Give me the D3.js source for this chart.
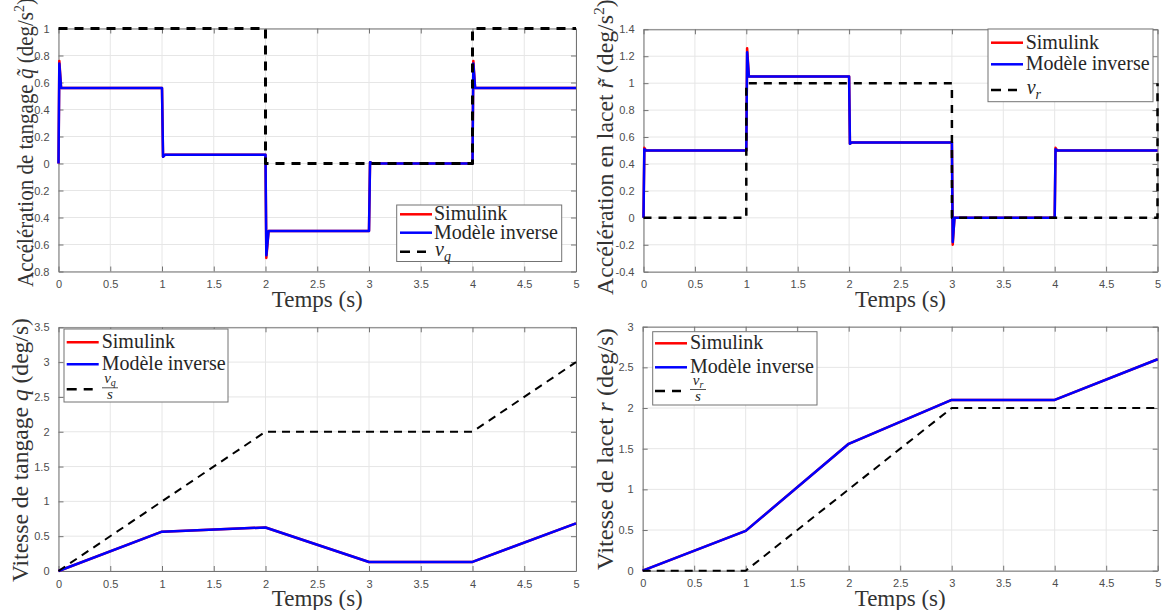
<!DOCTYPE html>
<html><head><meta charset="utf-8">
<script src="https://cdn.jsdelivr.net/npm/d3@7"></script>
<style>
body{margin:0;background:#fff;}
svg{display:block;}
</style></head>
<body><svg id="chart" width="1164" height="610"></svg>
<script>
// ---------------- DATA ----------------
const timeTicks = [0,0.5,1,1.5,2,2.5,3,3.5,4,4.5,5];
const yTicksAccQ = [-0.8,-0.6,-0.4,-0.2,0,0.2,0.4,0.6,0.8,1];
const yTicksAccR = [-0.4,-0.2,0,0.2,0.4,0.6,0.8,1,1.2,1.4];
const yTicksVitQ = [0,0.5,1,1.5,2,2.5,3,3.5];
const yTicksVitR = [0,0.5,1,1.5,2,2.5,3];

// pitch acceleration (q tilde)
const accQ_t   = [0, 0.008, 0.025, 1.0, 1.01, 1.03, 2.0, 2.008, 2.03, 3.0, 3.01, 3.03, 4.0, 4.008, 4.025, 5.0];
const accQ_sim = [0, 0.76, 0.56, 0.56, 0.05, 0.065, 0.065, -0.70, -0.50, -0.50, 0.01, 0.0, 0.0, 0.76, 0.56, 0.56];
const accQ_inv = [0, 0.74, 0.56, 0.56, 0.05, 0.065, 0.065, -0.68, -0.50, -0.50, 0.01, 0.0, 0.0, 0.74, 0.56, 0.56];
const vq_t = [0, 2, 2, 4, 4, 5];
const vq_v = [1, 1, 0, 0, 1, 1];

// yaw acceleration (r tilde)
const accR_t   = [0, 0.008, 0.025, 1.0, 1.008, 1.025, 2.0, 2.008, 2.025, 3.0, 3.008, 3.025, 4.0, 4.008, 4.025, 5.0];
const accR_sim = [0, 0.52, 0.50, 0.50, 1.26, 1.05, 1.05, 0.55, 0.56, 0.56, -0.20, 0.0, 0.0, 0.52, 0.50, 0.50];
const accR_inv = [0, 0.51, 0.50, 0.50, 1.23, 1.05, 1.05, 0.55, 0.56, 0.56, -0.18, 0.0, 0.0, 0.51, 0.50, 0.50];
const vr_t = [0, 1, 1, 3, 3, 5, 5];
const vr_v = [0, 0, 1, 1, 0, 0, 1];

// pitch rate q
const vit_t     = [0, 1, 2, 3, 4, 5];
const vitQ_sim  = [0, 0.565, 0.625, 0.13, 0.13, 0.685];
const vitQ_inv  = [0, 0.565, 0.625, 0.13, 0.13, 0.685];
const vqs_t = [0, 2, 4, 5];
const vqs_v = [0, 2, 2, 3];

// yaw rate r
const vitR_sim  = [0, 0.49, 1.56, 2.10, 2.10, 2.60];
const vitR_inv  = [0, 0.49, 1.56, 2.10, 2.10, 2.60];
const vrs_t = [0, 1, 3, 5];
const vrs_v = [0, 0, 2, 2];

const legendNames = ["Simulink", "Modèle inverse"];
const xLabel = "Temps (s)";

// ---------------- DRAW ----------------
const svg = d3.select("#chart");
const SERIF = "'Liberation Serif','Times New Roman',serif";
const SANS = "'Liberation Sans',Arial,sans-serif";
const zip = (t, v) => t.map((d, i) => [d, v[i]]);
const fmt = d => String(Math.round(d * 10) / 10);

const panels = [
  {x0:58.5, x1:576, y0:28.5, y1:271.5, dom:[-0.8,1], yt:yTicksAccQ,
   series:[{d:zip(accQ_t,accQ_sim),c:"#ff0000",w:2.5},{d:zip(accQ_t,accQ_inv),c:"#0000ff",w:2.5},
           {d:zip(vq_t,vq_v),c:"#000",w:3,dash:"9,7"}],
   ylab:{x:33,y:287,len:289,pre:"Accélération de tangage ",sym:"q\u0303",post:" (deg/s",sup:"2",end:")"},
   leg:{x0:396.7,x1:561.7,y0:205,y1:261.5,ys:[214.3,232.7,251.7],lx:400,tx:434,sub:"q",frac:false}},
  {x0:643.5, x1:1157.5, y0:29.3, y1:271.7, dom:[-0.4,1.4], yt:yTicksAccR,
   series:[{d:zip(accR_t,accR_sim),c:"#ff0000",w:2.5},{d:zip(accR_t,accR_inv),c:"#0000ff",w:2.5},
           {d:zip(vr_t,vr_v),c:"#000",w:2.5,dash:"8,7"}],
   ylab:{x:613,y:295,len:296,pre:"Accélération en lacet ",sym:"r\u0303",post:" (deg/s",sup:"2",end:")"},
   leg:{x0:988,x1:1153,y0:29,y1:101.7,ys:[42.7,64.3,90],lx:991,tx:1025.7,sub:"r",frac:false}},
  {x0:58.5, x1:576, y0:327.3, y1:571, dom:[0,3.5], yt:yTicksVitQ,
   series:[{d:zip(vit_t,vitQ_sim),c:"#ff0000",w:2.5},{d:zip(vit_t,vitQ_inv),c:"#0000ff",w:2.5},
           {d:zip(vqs_t,vqs_v),c:"#000",w:2,dash:"8,6"}],
   ylab:{x:28,y:582,len:264,pre:"Vitesse de tangage ",sym:"q",post:" (deg/s)",sup:"",end:""},
   leg:{x0:64,x1:228,y0:329,y1:402,ys:[342.3,364.3,389.3],lx:66.7,tx:101.7,sub:"q",frac:true,fx:110}},
  {x0:642.7, x1:1157.7, y0:326.7, y1:570.7, dom:[0,3], yt:yTicksVitR,
   series:[{d:zip(vit_t,vitR_sim),c:"#ff0000",w:2.5},{d:zip(vit_t,vitR_inv),c:"#0000ff",w:2.5},
           {d:zip(vrs_t,vrs_v),c:"#000",w:2,dash:"8,6"}],
   ylab:{x:613,y:570,len:242,pre:"Vitesse de lacet ",sym:"r",post:" (deg/s)",sup:"",end:""},
   leg:{x0:652.7,x1:817,y0:331.7,y1:405,ys:[343.3,367.3,391],lx:655,tx:690,sub:"r",frac:true,fx:698}}
];

panels.forEach(p => {
  const x = d3.scaleLinear().domain([0,5]).range([p.x0,p.x1]);
  const y = d3.scaleLinear().domain(p.dom).range([p.y1,p.y0]);
  const g = svg.append("g");

  // grid
  g.append("g").selectAll("line").data(timeTicks).join("line")
    .attr("x1",d=>x(d)).attr("x2",d=>x(d)).attr("y1",p.y0).attr("y2",p.y1)
    .attr("stroke","#e6e6e6").attr("stroke-width",1);
  g.append("g").selectAll("line").data(p.yt).join("line")
    .attr("y1",d=>y(d)).attr("y2",d=>y(d)).attr("x1",p.x0).attr("x2",p.x1)
    .attr("stroke","#e6e6e6").attr("stroke-width",1);

  // axes (bottom, left, top, right) with inward ticks
  const axB = d3.axisBottom(x).tickValues(timeTicks).tickFormat(fmt).tickSizeInner(-5).tickSizeOuter(0).tickPadding(9);
  const axL = d3.axisLeft(y).tickValues(p.yt).tickFormat(fmt).tickSizeInner(-5).tickSizeOuter(0).tickPadding(9);
  const axT = d3.axisTop(x).tickValues(timeTicks).tickFormat("").tickSizeInner(-5).tickSizeOuter(0);
  const axR = d3.axisRight(y).tickValues(p.yt).tickFormat("").tickSizeInner(-5).tickSizeOuter(0);
  const styleAx = sel => {
    sel.selectAll("path,line").attr("stroke","#737373").attr("stroke-width",1);
    sel.selectAll("text").attr("fill","#4d4d4d").attr("font-family",SANS).attr("font-size","11px");
  };
  g.append("g").attr("transform",`translate(0,${p.y1})`).call(axB).call(styleAx);
  g.append("g").attr("transform",`translate(${p.x0},0)`).call(axL).call(styleAx);
  g.append("g").attr("transform",`translate(0,${p.y0})`).call(axT).call(styleAx);
  g.append("g").attr("transform",`translate(${p.x1},0)`).call(axR).call(styleAx);

  // series
  const line = d3.line().x(d=>x(d[0])).y(d=>y(d[1]));
  p.series.forEach(s => {
    g.append("path").datum(s.d).attr("d",line).attr("fill","none")
      .attr("stroke",s.c).attr("stroke-width",s.w)
      .attr("stroke-dasharray",s.dash||null).attr("stroke-linejoin","round");
  });

  // x label
  g.append("text").attr("x",(p.x0+p.x1)/2).attr("y",p.y1+35)
    .attr("text-anchor","middle").attr("font-family",SERIF).attr("font-size","23px")
    .attr("fill","#333").text(xLabel);

  // y label (scaled along its length to match the reference)
  const yl = g.append("text")
    .attr("font-family",SERIF).attr("font-size","22.5px").attr("fill","#333");
  yl.append("tspan").text(p.ylab.pre);
  yl.append("tspan").attr("font-style","italic").text(p.ylab.sym);
  yl.append("tspan").text(p.ylab.post);
  if (p.ylab.sup) {
    yl.append("tspan").attr("dy",-9).attr("font-size","15px").text(p.ylab.sup);
    yl.append("tspan").attr("dy",9).text(p.ylab.end);
  }
  const nat = yl.node().getComputedTextLength();
  const sc = nat > 0 ? p.ylab.len / nat : 1;
  yl.attr("transform",`translate(${p.ylab.x},${p.ylab.y}) rotate(-90) scale(${sc},1)`);

  // legend
  const L = p.leg;
  const lg = g.append("g");
  lg.append("rect").attr("x",L.x0).attr("y",L.y0).attr("width",L.x1-L.x0).attr("height",L.y1-L.y0)
    .attr("fill","#fff").attr("stroke","#737373").attr("stroke-width",1);
  const cols = ["#ff0000","#0000ff"];
  legendNames.forEach((n,i) => {
    lg.append("line").attr("x1",L.lx).attr("x2",L.lx+32).attr("y1",L.ys[i]).attr("y2",L.ys[i])
      .attr("stroke",cols[i]).attr("stroke-width",2.5);
    lg.append("text").attr("x",L.tx).attr("y",L.ys[i]+6).attr("font-family",SERIF)
      .attr("font-size","20px").attr("fill","#262626").text(n);
  });
  lg.append("line").attr("x1",L.lx).attr("x2",L.lx+26).attr("y1",L.ys[2]).attr("y2",L.ys[2])
    .attr("stroke","#000").attr("stroke-width",2.5).attr("stroke-dasharray","10,7");
  if (!L.frac) {
    const t = lg.append("text").attr("x",L.tx+1).attr("y",L.ys[2]+4).attr("font-family",SERIF)
      .attr("font-size","20px").attr("font-style","italic").attr("fill","#262626");
    t.append("tspan").text("v");
    t.append("tspan").attr("dy",5).attr("font-size","14px").text(L.sub);
  } else {
    const t = lg.append("text").attr("x",L.fx).attr("y",L.ys[2]-6).attr("text-anchor","middle")
      .attr("font-family",SERIF).attr("font-size","15px").attr("font-style","italic").attr("fill","#262626");
    t.append("tspan").text("v");
    t.append("tspan").attr("dy",3).attr("font-size","10px").text(L.sub);
    lg.append("line").attr("x1",L.fx-8).attr("x2",L.fx+8).attr("y1",L.ys[2]-1.5).attr("y2",L.ys[2]-1.5)
      .attr("stroke","#262626").attr("stroke-width",0.8);
    lg.append("text").attr("x",L.fx).attr("y",L.ys[2]+10).attr("text-anchor","middle")
      .attr("font-family",SERIF).attr("font-size","15px").attr("font-style","italic").attr("fill","#262626").text("s");
  }
});
</script>
</body></html>
